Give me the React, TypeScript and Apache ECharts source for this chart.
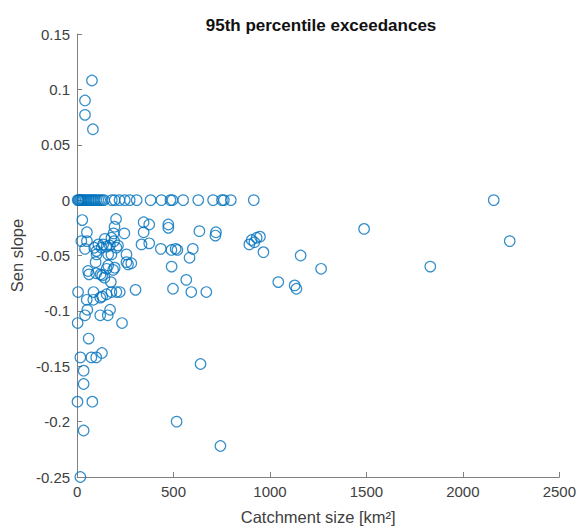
import React, { useEffect, useRef } from "react";
import * as echarts from "echarts";

const titleText = "95th percentile exceedances";
const xAxisName = "Catchment size [km²]";
const yAxisName = "Sen slope";

// Catchment size [km²]
const catchmentSize: number[] = [
  // positive slopes
  77, 41, 41, 82,
  // zero slopes
  3, 8, 12, 18, 24, 30, 36, 44, 52, 60, 68, 76, 84, 92, 100, 110, 120, 130, 140, 180, 195, 220, 247, 273,
  309, 381, 437, 484, 494, 550, 628, 705, 751, 761, 797, 916, 2160,
  // negative slopes
  27, 202, 194, 51, 189, 245, 345, 374, 473, 473, 345, 634, 720, 717,
  22, 51, 110, 135, 144, 178, 192, 334, 374,
  41, 89, 101, 127, 153, 170, 204, 212,
  434, 489, 511, 520, 600, 583, 490,
  101, 161, 178, 256, 96, 256, 281, 161, 195,
  57, 62, 99, 122, 130, 142, 153, 187, 175, 264,
  566, 303, 497, 592, 670,
  5, 85, 153, 178, 204, 221, 130, 50, 84, 120,
  53, 171, 41, 120, 159, 3, 233,
  60, 129, 17, 74, 99, 640, 34, 34, 2, 79, 516, 34, 743, 17,
  893, 905, 919, 931, 948, 966, 1488, 1159, 1265, 1043, 1128, 1137, 1831, 2243,
];

// Sen slope
const senSlope: number[] = [
  0.108, 0.09, 0.077, 0.064,
  0, 0, 0, 0, 0, 0, 0, 0, 0, 0, 0, 0, 0, 0, 0, 0, 0, 0, 0, 0, 0, 0, 0, 0,
  0, 0, 0, 0, 0, 0, 0, 0, 0, 0, 0, 0, 0,
  -0.018, -0.017, -0.024, -0.029, -0.03, -0.03, -0.02, -0.022, -0.022, -0.025, -0.029, -0.028, -0.029, -0.032,
  -0.037, -0.037, -0.04, -0.04, -0.035, -0.034, -0.037, -0.04, -0.039,
  -0.044, -0.043, -0.046, -0.043, -0.042, -0.041, -0.043, -0.041,
  -0.044, -0.045, -0.044, -0.045, -0.044, -0.052, -0.06,
  -0.049, -0.049, -0.049, -0.049, -0.056, -0.056, -0.057, -0.059, -0.061,
  -0.064, -0.067, -0.066, -0.067, -0.068, -0.07, -0.062, -0.063, -0.074, -0.058,
  -0.072, -0.081, -0.08, -0.083, -0.083,
  -0.083, -0.083, -0.085, -0.083, -0.083, -0.083, -0.087, -0.09, -0.09, -0.088,
  -0.099, -0.099, -0.104, -0.104, -0.104, -0.111, -0.111,
  -0.125, -0.138, -0.142, -0.142, -0.142, -0.148, -0.154, -0.166, -0.182, -0.182, -0.2, -0.208, -0.222, -0.25,
  -0.04, -0.036, -0.038, -0.034, -0.033, -0.047, -0.026, -0.05, -0.062, -0.074, -0.077, -0.08, -0.06, -0.037,
];

const xTicks = { min: 0, max: 2500, interval: 500 };
const yTicks = { min: -0.25, max: 0.15, interval: 0.05 };

const FONT = 'Arial, "Liberation Sans", Helvetica, sans-serif';
const AXIS_COLOR = "#808080";
const LABEL_COLOR = "#404040";

export default function App() {
  const ref = useRef<HTMLDivElement>(null);

  useEffect(() => {
    if (!ref.current) return;
    const chart = echarts.init(ref.current, undefined, { renderer: "svg" });
    const points = catchmentSize.map((x, i) => [x, senSlope[i]]);
    chart.setOption({
      animation: false,
      backgroundColor: "#ffffff",
      title: {
        text: titleText,
        left: 316,
        textAlign: "center",
        top: 12,
        textStyle: { fontFamily: FONT, fontSize: 17, fontWeight: "bold", color: "#111111" },
      },
      grid: { left: 74, right: 19, top: 34, bottom: 51, containLabel: false },
      xAxis: {
        type: "value",
        min: xTicks.min,
        max: xTicks.max,
        interval: xTicks.interval,
        name: xAxisName,
        nameLocation: "middle",
        nameGap: 31,
        nameTextStyle: { fontFamily: FONT, fontSize: 16.5, color: LABEL_COLOR },
        axisLine: { show: true, onZero: false, lineStyle: { color: AXIS_COLOR, width: 1 } },
        axisTick: { show: true, inside: true, length: 5, lineStyle: { color: AXIS_COLOR } },
        axisLabel: {
          fontFamily: FONT,
          fontSize: 15,
          color: LABEL_COLOR,
          margin: 7,
          formatter: (v: number) => String(v),
        },
        splitLine: { show: false },
      },
      yAxis: {
        type: "value",
        min: yTicks.min,
        max: yTicks.max,
        interval: yTicks.interval,
        name: yAxisName,
        nameLocation: "middle",
        nameGap: 48,
        nameRotate: 90,
        nameTextStyle: { fontFamily: FONT, fontSize: 16.5, color: LABEL_COLOR },
        axisLine: { show: true, onZero: false, lineStyle: { color: AXIS_COLOR, width: 1 } },
        axisTick: { show: true, inside: true, length: 5, lineStyle: { color: AXIS_COLOR } },
        axisLabel: {
          fontFamily: FONT,
          fontSize: 15,
          color: LABEL_COLOR,
          margin: 7,
          formatter: (v: number) => String(Math.round(v * 100) / 100),
        },
        splitLine: { show: false },
      },
      series: [
        {
          type: "scatter",
          data: points,
          symbol: "circle",
          symbolSize: 10.5,
          itemStyle: { color: "rgba(0,0,0,0)", borderColor: "#0072BD", borderWidth: 1.2 },
          emphasis: { disabled: true },
        },
      ],
    });
    return () => chart.dispose();
  }, []);

  return (
    <div
      ref={ref}
      style={{ position: "fixed", left: 0, top: 0, width: 579, height: 530, background: "#fff" }}
    />
  );
}
